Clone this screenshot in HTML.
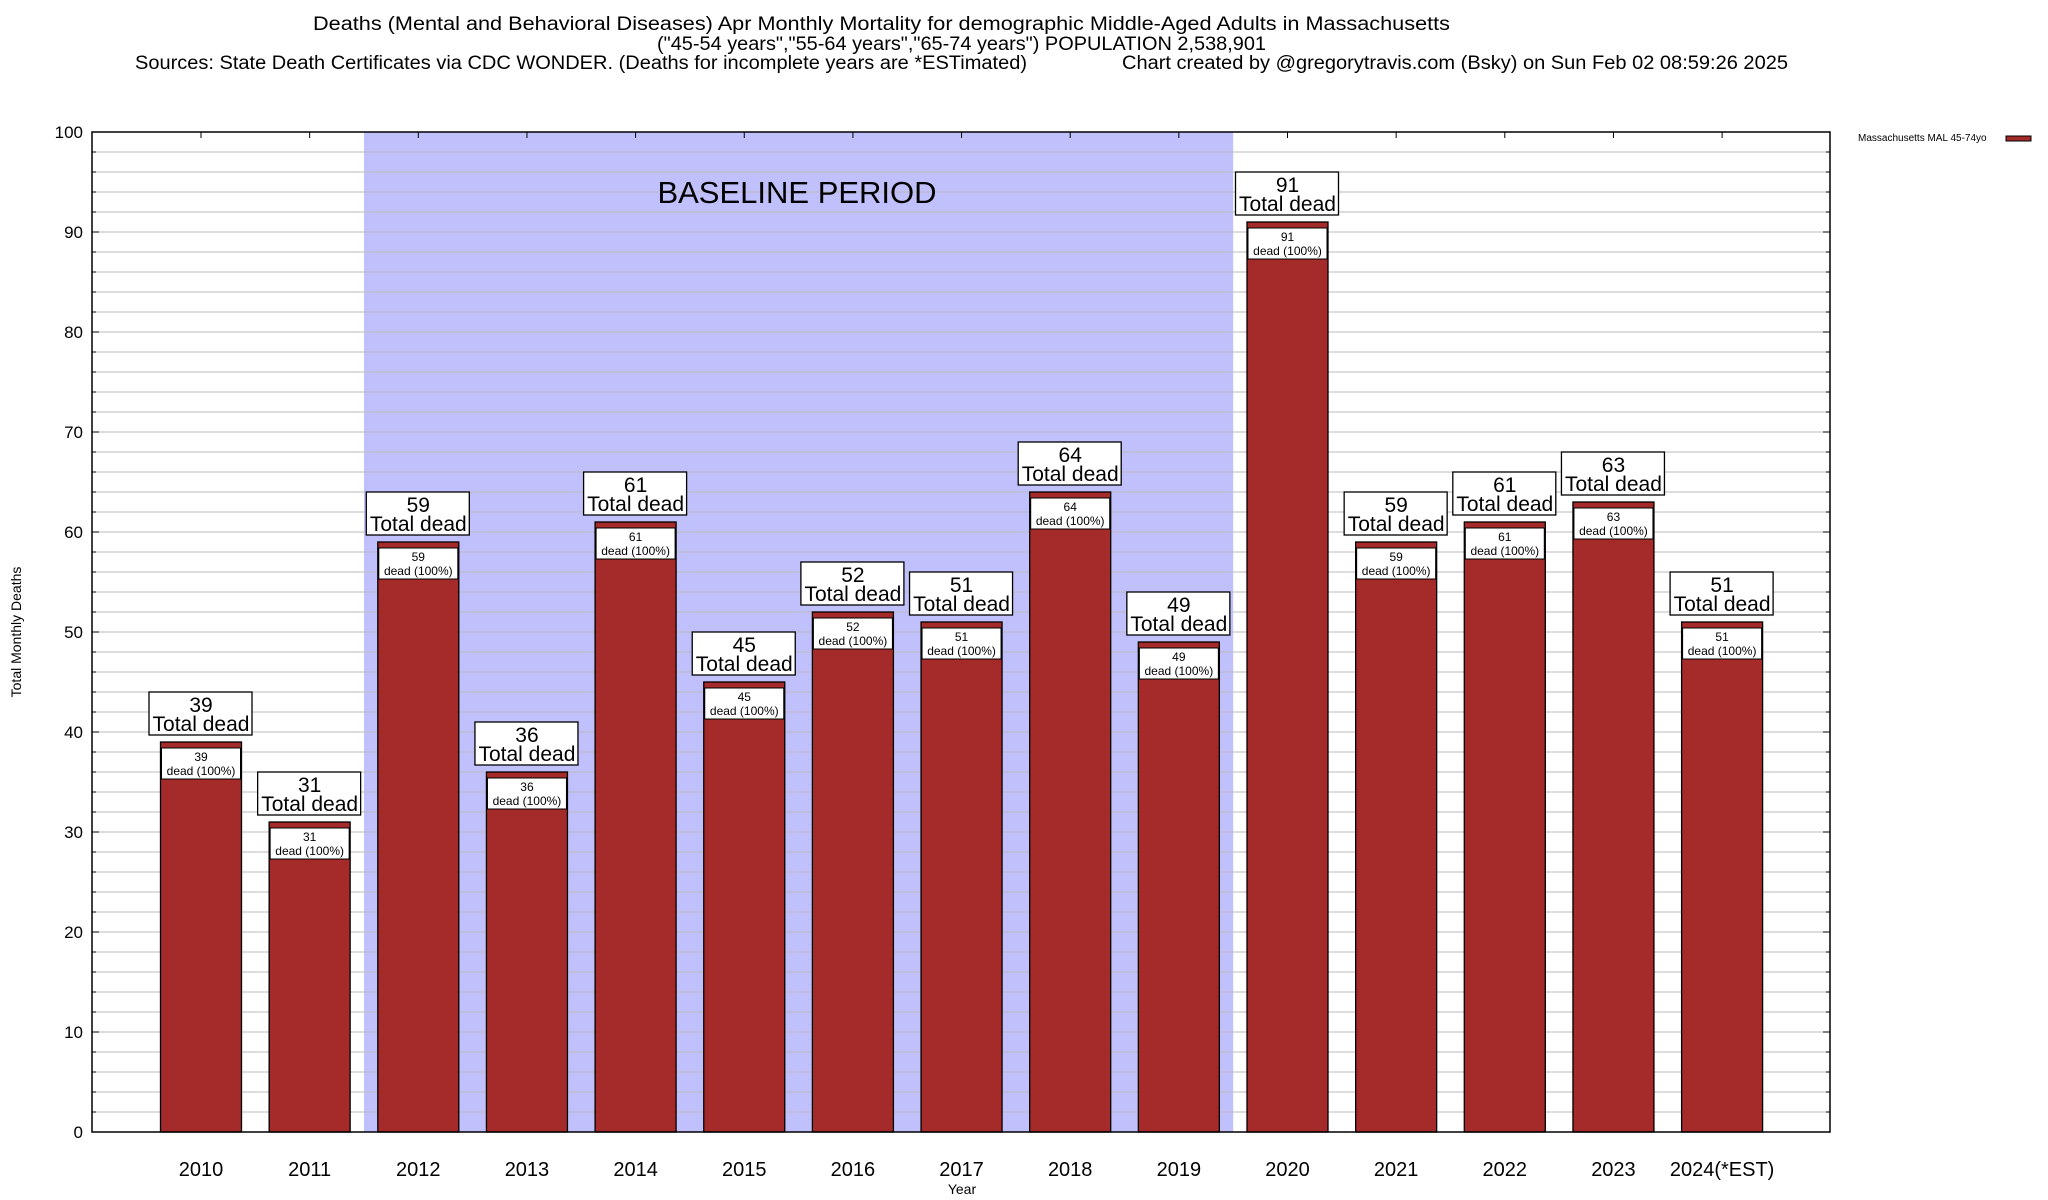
<!DOCTYPE html>
<html><head><meta charset="utf-8"><style>
body{margin:0;background:#fff}
svg{display:block;font-family:"Liberation Sans",sans-serif}
</style></head><body>
<svg id="chart" width="2048" height="1200" xmlns="http://www.w3.org/2000/svg">
<g font-size="19" fill="#000">
<text x="313" y="30" textLength="1137" lengthAdjust="spacingAndGlyphs">Deaths (Mental and Behavioral Diseases) Apr Monthly Mortality for demographic Middle-Aged Adults in Massachusetts</text>
<text x="657" y="50" textLength="609" lengthAdjust="spacingAndGlyphs">("45-54 years","55-64 years","65-74 years") POPULATION 2,538,901</text>
<text x="135" y="69" textLength="892" lengthAdjust="spacingAndGlyphs">Sources: State Death Certificates via CDC WONDER. (Deaths for incomplete years are *ESTimated)</text>
<text x="1122" y="69" textLength="666" lengthAdjust="spacingAndGlyphs">Chart created by @gregorytravis.com (Bsky) on Sun Feb 02 08:59:26 2025</text>
</g>
<g id="plot"></g>
<g>
<text x="1858" y="141" font-size="10" fill="#000">Massachusetts MAL 45-74yo</text>
<rect x="2006" y="136" width="25" height="5" fill="#a52a2a" stroke="#000" stroke-width="1"/>
</g>
<text x="0" y="0" font-size="14" text-anchor="middle" transform="translate(21,632) rotate(-90)">Total Monthly Deaths</text>
<text x="962" y="1194" font-size="14" text-anchor="middle">Year</text>
</svg>
<script>
const categories=["2010","2011","2012","2013","2014","2015","2016","2017","2018","2019","2020","2021","2022","2023","2024(*EST)"];
const deaths=[39,31,59,36,61,45,52,51,64,49,91,59,61,63,51];
const yTicks=[0,10,20,30,40,50,60,70,80,90,100];
const baselineStart=2, baselineEnd=9;
const NS="http://www.w3.org/2000/svg";
const L=92,R=1830,T=132,B=1132,yMax=100;
const y=v=>B-(v/yMax)*(B-T);
const x=i=>201+i*108.65;
const BW=81;
const g=document.getElementById('plot');
function mk(tag,attrs,parent){const e=document.createElementNS(NS,tag);for(const k in attrs)e.setAttribute(k,attrs[k]);(parent||g).appendChild(e);return e;}
const bx0=(x(baselineStart)+x(baselineStart-1))/2, bx1=(x(baselineEnd)+x(baselineEnd+1))/2;
const bs=mk('rect',{x:bx0,y:T,width:bx1-bx0,height:B-T,fill:'#c0c0fc'});


for(let v=2;v<yMax;v+=2){const l=mk('line',{x1:L,x2:R,y1:y(v),y2:y(v),stroke:'#bbb','stroke-width':1});


mk('line',{x1:L,x2:L+(v%10?4:7),y1:y(v),y2:y(v),stroke:'#000'});
mk('line',{x1:R,x2:R-(v%10?4:7),y1:y(v),y2:y(v),stroke:'#000'});}
yTicks.forEach(v=>{const t=mk('text',{x:83,y:y(v)+6,'font-size':17,'text-anchor':'end'});t.textContent=v;

});
const bt=mk('text',{x:797,y:203,'font-size':31,'text-anchor':'middle'});bt.textContent='BASELINE PERIOD';


categories.forEach((c,i)=>{
 const cx=x(i),v=deaths[i],top=y(v);
 mk('line',{x1:cx,x2:cx,y1:T,y2:T+6,stroke:'#000'});
 const b=mk('rect',{x:cx-BW/2,y:top,width:BW,height:B-top,fill:'#a52a2a',stroke:'#000','stroke-width':1.3});
 
 
 const ib=mk('rect',{x:cx-BW/2+1,y:top+6,width:BW-2,height:31,fill:'#fff',stroke:'#000','stroke-width':1});
 
 
 const t1=mk('text',{x:cx,y:top+19,'font-size':12,'text-anchor':'middle'});t1.textContent=v;
 
 
 const t2=mk('text',{x:cx,y:top+33,'font-size':12,'text-anchor':'middle'});t2.textContent='dead (100%)';
 
 
 const ob=mk('rect',{x:cx-52,y:top-50,width:103,height:43,fill:'#fff',stroke:'#000','stroke-width':1.3});
 
 
 const t3=mk('text',{x:cx,y:top-30,'font-size':21,'text-anchor':'middle'});t3.textContent=v;
 
 
 const t4=mk('text',{x:cx,y:top-11,'font-size':21,'text-anchor':'middle'});t4.textContent='Total dead';
 
 
 const xt=mk('text',{x:cx,y:1176,'font-size':20,'text-anchor':'middle'});xt.textContent=c;
 
 
});
const fr=mk('rect',{x:L,y:T,width:R-L,height:B-T,fill:'none',stroke:'#000','stroke-width':1.5});


</script>
</body></html>
